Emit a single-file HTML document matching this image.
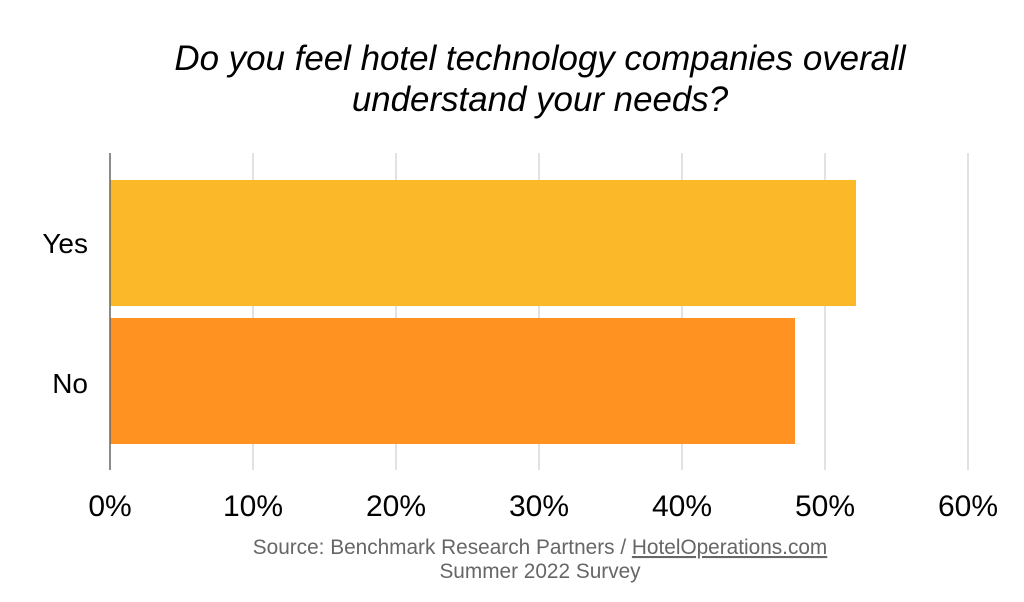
<!DOCTYPE html>
<html><head><style>
html,body{margin:0;padding:0;background:#fff;}
body{width:1024px;height:602px;position:relative;overflow:hidden;font-family:"Liberation Sans",sans-serif;}
</style></head><body>
<svg width="1024" height="602" xmlns="http://www.w3.org/2000/svg" style="position:absolute;left:0;top:0">
<g font-family="Liberation Sans, sans-serif">
<text x="540" y="70" font-size="34.9" font-style="italic" text-anchor="middle" fill="#000">Do you feel hotel technology companies overall</text>
<text x="540" y="111" font-size="34.9" font-style="italic" text-anchor="middle" fill="#000">understand your needs?</text>
<g stroke="#d9d9d9" stroke-width="1.5">
<line x1="253" y1="153" x2="253" y2="470"/>
<line x1="396" y1="153" x2="396" y2="470"/>
<line x1="539" y1="153" x2="539" y2="470"/>
<line x1="682" y1="153" x2="682" y2="470"/>
<line x1="825" y1="153" x2="825" y2="470"/>
<line x1="968" y1="153" x2="968" y2="470"/>
</g>
<rect x="110" y="180" width="746" height="126" fill="#fbb829"/>
<rect x="110" y="318" width="685" height="126" fill="#ff9220"/>
<line x1="110" y1="153" x2="110" y2="470" stroke="#666" stroke-width="1.5"/>
<text x="88" y="253" font-size="28" text-anchor="end" fill="#000">Yes</text>
<text x="88" y="393" font-size="28" text-anchor="end" fill="#000">No</text>
<g font-size="30" text-anchor="middle" fill="#000">
<text x="110" y="516">0%</text>
<text x="253" y="516">10%</text>
<text x="396" y="516">20%</text>
<text x="539" y="516">30%</text>
<text x="682" y="516">40%</text>
<text x="825" y="516">50%</text>
<text x="968" y="516">60%</text>
</g>
<text x="540" y="554" font-size="20.8" text-anchor="middle" fill="#666">Source: Benchmark Research Partners / <tspan text-decoration="underline">HotelOperations.com</tspan></text>
<text x="540" y="578" font-size="20.8" text-anchor="middle" fill="#666">Summer 2022 Survey</text>
</g>
</svg>
</body></html>
